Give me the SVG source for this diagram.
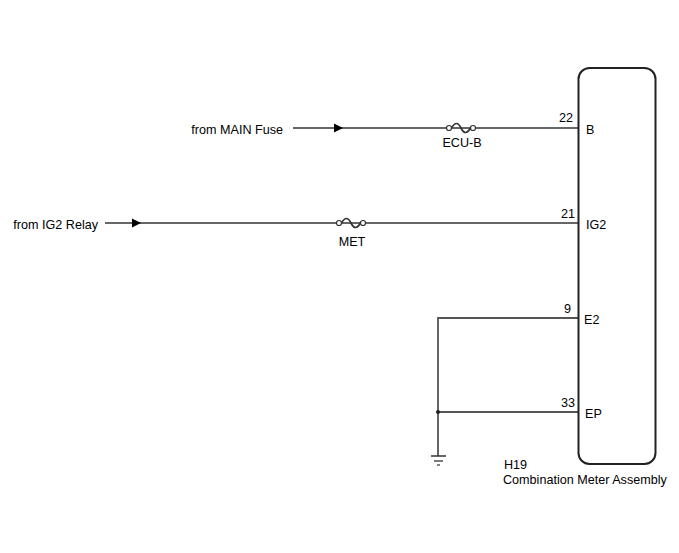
<svg xmlns="http://www.w3.org/2000/svg" width="679" height="553" viewBox="0 0 679 553">
<style>
text{font-family:"Liberation Sans",Arial,sans-serif;font-size:12.6px;fill:#000}
.w{stroke:#333;stroke-width:1.5;fill:none}
.g{stroke:#555;stroke-width:1.8;fill:none}
.fc{fill:#fff;stroke:#333;stroke-width:1.2}
.fw{fill:none;stroke:#333;stroke-width:1.7}
.arr{fill:#000}
</style>
<rect width="679" height="553" fill="#fff"/>
<g id="connectors">
<line class="w" x1="293" y1="128" x2="578" y2="128"/>
<polygon class="arr" points="334,123.5 343,128 334,132.5"/>
<line class="w" x1="105" y1="223" x2="578" y2="223"/>
<polygon class="arr" points="132,218.5 141,223 132,227.5"/>
<polyline class="g" points="578,318 438,318 438,456"/>
<line class="g" x1="438" y1="412" x2="578" y2="412"/>
<circle cx="438" cy="412" r="2" fill="#222"/>
</g>
<g id="fuse-ecu-b">
<path class="fw" d="M451.5,128 C455,122 458,122 461,128 C464,134 467,134 470.5,128"/>
<circle class="fc" cx="449" cy="128" r="2.5"/>
<circle class="fc" cx="473" cy="128" r="2.5"/>
<text x="462" y="147" text-anchor="middle">ECU-B</text>
</g>
<g id="fuse-met">
<path class="fw" d="M341.5,223 C345,217 348,217 351,223 C354,229 357,229 360.5,223"/>
<circle class="fc" cx="339" cy="223" r="2.5"/>
<circle class="fc" cx="363" cy="223" r="2.5"/>
<text x="352" y="246" text-anchor="middle">MET</text>
</g>
<g id="ground">
<line x1="431" y1="456" x2="446" y2="456" stroke="#333" stroke-width="1.5"/>
<line x1="434" y1="461" x2="443" y2="461" stroke="#333" stroke-width="1.3"/>
<line x1="437" y1="465" x2="440" y2="465" stroke="#333" stroke-width="1.2"/>
</g>
<g id="src-main">
<text x="283" y="134" text-anchor="end">from MAIN Fuse</text>
</g>
<g id="src-ig2">
<text x="98" y="229" text-anchor="end">from IG2 Relay</text>
</g>
<g id="h19">
<rect x="578.5" y="68" width="77" height="396" rx="11" ry="11" fill="none" stroke="#222" stroke-width="2"/>
<text x="573" y="122" text-anchor="end">22</text>
<text x="586" y="134">B</text>
<text x="575" y="218" text-anchor="end">21</text>
<text x="586" y="229">IG2</text>
<text x="571" y="313" text-anchor="end">9</text>
<text x="584" y="324">E2</text>
<text x="575" y="407" text-anchor="end">33</text>
<text x="585" y="418">EP</text>
<text x="504" y="469">H19</text>
<text x="503" y="484">Combination Meter Assembly</text>
</g>
</svg>
